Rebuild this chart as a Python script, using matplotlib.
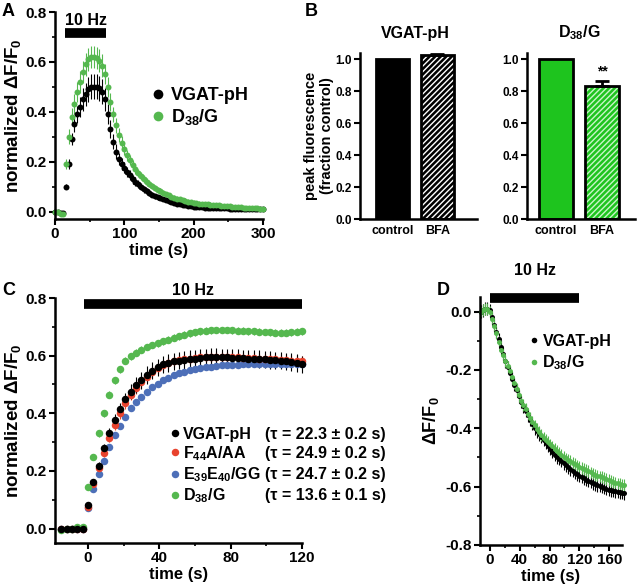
import numpy as np
import matplotlib
matplotlib.use("Agg")
import matplotlib.pyplot as plt
from matplotlib.lines import Line2D
from matplotlib.ticker import MultipleLocator

plt.rcParams["font.family"] = ["Liberation Sans", "DejaVu Sans"]
plt.rcParams["font.weight"] = "bold"
plt.rcParams["axes.labelweight"] = "bold"
plt.rcParams["axes.titleweight"] = "bold"
plt.rcParams["mathtext.default"] = "regular"
plt.rcParams["hatch.linewidth"] = 1.0

GREEN = "#55b84f"
BAR_GREEN = "#1ec41e"
RED = "#e8432e"
BLUE = "#4d6fb8"

# ---- panel A: 10 Hz, 60 s stimulus, full recovery ----
t_a = np.arange(0, 301, 4)
vgat_a = [0.0, 0.0, -0.005, -0.005, 0.10, 0.19, 0.29, 0.35, 0.39, 0.42,
          0.45, 0.47, 0.49, 0.50, 0.50, 0.50, 0.495, 0.48, 0.45, 0.39,
          0.33, 0.28, 0.24, 0.21, 0.19, 0.175, 0.16, 0.145, 0.13, 0.12,
          0.11, 0.10, 0.09, 0.082, 0.075, 0.068, 0.062, 0.058, 0.054, 0.05,
          0.046, 0.042, 0.038, 0.035, 0.032, 0.03, 0.027, 0.025, 0.023, 0.021,
          0.02, 0.019, 0.018, 0.017, 0.016, 0.016, 0.015, 0.015, 0.014, 0.014,
          0.013, 0.013, 0.013, 0.012, 0.012, 0.012, 0.011, 0.011, 0.011, 0.011,
          0.01, 0.01, 0.01, 0.01, 0.01, 0.01]
vgat_a_err = [0.005, 0.005, 0.005, 0.005, 0.01, 0.02, 0.025, 0.03, 0.035, 0.04,
              0.045, 0.045, 0.05, 0.05, 0.05, 0.05, 0.05, 0.05, 0.045, 0.04,
              0.035, 0.03, 0.03, 0.025, 0.025, 0.022, 0.02, 0.02, 0.018, 0.018,
              0.016, 0.015, 0.014, 0.013, 0.012, 0.011, 0.01, 0.01, 0.009, 0.009,
              0.008, 0.008, 0.008, 0.008, 0.008, 0.008, 0.008, 0.008, 0.008, 0.008,
              0.007, 0.007, 0.007, 0.007, 0.007, 0.007, 0.007, 0.007, 0.007, 0.007,
              0.006, 0.006, 0.006, 0.006, 0.006, 0.006, 0.006, 0.006, 0.006, 0.006,
              0.006, 0.006, 0.006, 0.006, 0.006, 0.006]
d38_a = [0.0, 0.0, -0.01, -0.01, 0.19, 0.30, 0.38, 0.43, 0.48, 0.52,
         0.56, 0.59, 0.61, 0.62, 0.62, 0.615, 0.605, 0.585, 0.55, 0.50,
         0.44, 0.39, 0.345, 0.305, 0.275, 0.25, 0.225, 0.205, 0.185, 0.17,
         0.155, 0.142, 0.13, 0.12, 0.11, 0.102, 0.095, 0.088, 0.082, 0.076,
         0.07, 0.065, 0.06, 0.056, 0.052, 0.049, 0.046, 0.043, 0.04, 0.038,
         0.036, 0.034, 0.032, 0.031, 0.03, 0.029, 0.028, 0.027, 0.026, 0.025,
         0.024, 0.023, 0.022, 0.021, 0.02, 0.019, 0.018, 0.017, 0.016, 0.015,
         0.014, 0.014, 0.013, 0.013, 0.012, 0.012]
d38_a_err = [0.008, 0.008, 0.008, 0.008, 0.02, 0.03, 0.035, 0.04, 0.04, 0.045,
             0.045, 0.045, 0.045, 0.045, 0.045, 0.045, 0.045, 0.045, 0.04, 0.04,
             0.035, 0.03, 0.03, 0.028, 0.026, 0.024, 0.022, 0.02, 0.02, 0.018,
             0.017, 0.016, 0.015, 0.014, 0.013, 0.012, 0.012, 0.011, 0.011, 0.01,
             0.01, 0.01, 0.01, 0.01, 0.01, 0.01, 0.01, 0.01, 0.01, 0.01,
             0.009, 0.009, 0.009, 0.009, 0.009, 0.009, 0.009, 0.009, 0.009, 0.009,
             0.008, 0.008, 0.008, 0.008, 0.008, 0.008, 0.008, 0.008, 0.008, 0.008,
             0.008, 0.008, 0.008, 0.008, 0.008, 0.008]
stim_a = (14, 74)

# ---- panel B: peak fluorescence after BFA ----
bar_labels = ["control", "BFA"]
vgat_b = [1.0, 1.03]
vgat_b_err = [0.0, 0.004]
d38_b = [1.0, 0.835]
d38_b_err = [0.0, 0.028]

# ---- panel C: 10 Hz, 120 s stimulus ----
t_c = np.arange(-15, 121, 3)
vgat_c = [0.0, 0.0, -0.002, 0.0, 0.0,
          0.083, 0.16, 0.218, 0.278, 0.33, 0.378, 0.415, 0.448, 0.475, 0.497,
          0.515, 0.533, 0.548, 0.56, 0.57, 0.575, 0.58, 0.583, 0.585, 0.588,
          0.59, 0.592, 0.594, 0.595, 0.595, 0.594, 0.594, 0.593, 0.592, 0.591,
          0.59, 0.589, 0.588, 0.587, 0.585, 0.584, 0.582, 0.58, 0.578, 0.575,
          0.57]
vgat_c_err = [0.006, 0.006, 0.006, 0.006, 0.006,
              0.008, 0.01, 0.012, 0.015, 0.018, 0.02, 0.022, 0.024, 0.026, 0.028,
              0.03, 0.03, 0.03, 0.03, 0.03, 0.03, 0.03, 0.03, 0.03, 0.03,
              0.03, 0.03, 0.03, 0.03, 0.03, 0.03, 0.03, 0.03, 0.03, 0.03,
              0.03, 0.03, 0.03, 0.03, 0.03, 0.03, 0.03, 0.03, 0.03, 0.03,
              0.03]
f44_c = [0.0, 0.0, 0.0, 0.0, 0.0,
         0.075, 0.155, 0.21, 0.262, 0.315, 0.36, 0.40, 0.435, 0.465, 0.488,
         0.508, 0.527, 0.543, 0.556, 0.566, 0.574, 0.58, 0.584, 0.587, 0.59,
         0.592, 0.594, 0.595, 0.596, 0.596, 0.596, 0.595, 0.595, 0.594, 0.593,
         0.592, 0.591, 0.59, 0.589, 0.588, 0.587, 0.586, 0.585, 0.583, 0.582,
         0.58]
f44_c_err = [0.005, 0.005, 0.005, 0.005, 0.005,
             0.008, 0.01, 0.012, 0.014, 0.016, 0.018, 0.02, 0.02, 0.02, 0.02,
             0.02, 0.02, 0.02, 0.02, 0.02, 0.02, 0.02, 0.02, 0.02, 0.02,
             0.02, 0.02, 0.02, 0.02, 0.02, 0.02, 0.02, 0.02, 0.02, 0.02,
             0.02, 0.02, 0.02, 0.02, 0.02, 0.02, 0.02, 0.02, 0.02, 0.02,
             0.02]
e39_c = [0.0, 0.0, 0.0, 0.0, 0.0,
         0.07, 0.139, 0.188, 0.234, 0.282, 0.325, 0.356, 0.388, 0.417, 0.44,
         0.458, 0.475, 0.49, 0.503, 0.514, 0.524, 0.532, 0.539, 0.545, 0.55,
         0.554, 0.557, 0.56, 0.562, 0.564, 0.566, 0.567, 0.568, 0.569, 0.57,
         0.57, 0.571, 0.571, 0.572, 0.572, 0.572, 0.572, 0.572, 0.571, 0.571,
         0.57]
e39_c_err = [0.004, 0.004, 0.004, 0.004, 0.004,
             0.006, 0.008, 0.01, 0.01, 0.01, 0.01, 0.01, 0.01, 0.01, 0.01,
             0.01, 0.01, 0.01, 0.01, 0.01, 0.01, 0.01, 0.01, 0.01, 0.01,
             0.01, 0.01, 0.01, 0.01, 0.01, 0.01, 0.01, 0.01, 0.01, 0.01,
             0.01, 0.01, 0.01, 0.01, 0.01, 0.01, 0.01, 0.01, 0.01, 0.01,
             0.01]
d38_c = [-0.005, 0.0, 0.0, 0.005, 0.005,
         0.145, 0.25, 0.33, 0.40, 0.465, 0.515, 0.553, 0.582, 0.598, 0.61,
         0.62, 0.63, 0.637, 0.643, 0.65, 0.656, 0.662, 0.667, 0.672, 0.677,
         0.681, 0.684, 0.686, 0.688, 0.689, 0.689, 0.689, 0.688, 0.687, 0.686,
         0.685, 0.684, 0.683, 0.682, 0.681, 0.68, 0.68, 0.68, 0.681, 0.683,
         0.685]
d38_c_err = [0.005, 0.005, 0.005, 0.005, 0.005,
             0.008, 0.01, 0.012, 0.012, 0.012, 0.012, 0.012, 0.012, 0.012, 0.012,
             0.012, 0.012, 0.012, 0.012, 0.012, 0.012, 0.012, 0.012, 0.012, 0.012,
             0.012, 0.012, 0.012, 0.012, 0.012, 0.012, 0.012, 0.012, 0.012, 0.012,
             0.012, 0.012, 0.012, 0.012, 0.012, 0.012, 0.012, 0.012, 0.012, 0.012,
             0.012]
tau_c = ["(τ = 22.3 ± 0.2 s)", "(τ = 24.9 ± 0.2 s)",
         "(τ = 24.7 ± 0.2 s)", "(τ = 13.6 ± 0.1 s)"]
stim_c = (-2, 120)

# ---- panel D: surface fluorescence during 10 Hz ----
t_d = np.arange(-12, 181, 3)
vgat_d = [0.0, 0.005, 0.01, 0.01, 0.005, -0.02, -0.045, -0.07, -0.095, -0.12,
          -0.145, -0.17, -0.19, -0.21, -0.23, -0.25, -0.27, -0.29, -0.31, -0.325,
          -0.34, -0.355, -0.37, -0.385, -0.4, -0.41, -0.42, -0.43, -0.44, -0.45,
          -0.46, -0.47, -0.48, -0.49, -0.5, -0.505, -0.512, -0.52, -0.527, -0.533,
          -0.54, -0.546, -0.552, -0.557, -0.562, -0.567, -0.572, -0.576, -0.58, -0.584,
          -0.588, -0.592, -0.595, -0.598, -0.601, -0.604, -0.607, -0.61, -0.612, -0.614,
          -0.616, -0.618, -0.62, -0.622, -0.623]
d38_d = [0.0, 0.005, 0.01, 0.01, 0.0, -0.025, -0.05, -0.075, -0.105, -0.13,
         -0.15, -0.17, -0.188, -0.205, -0.225, -0.245, -0.265, -0.285, -0.305, -0.32,
         -0.335, -0.35, -0.365, -0.378, -0.39, -0.402, -0.413, -0.423, -0.432, -0.44,
         -0.448, -0.455, -0.462, -0.47, -0.477, -0.484, -0.491, -0.497, -0.503, -0.508,
         -0.513, -0.518, -0.523, -0.527, -0.531, -0.535, -0.539, -0.543, -0.547, -0.551,
         -0.555, -0.559, -0.562, -0.565, -0.568, -0.571, -0.574, -0.577, -0.58, -0.583,
         -0.586, -0.589, -0.591, -0.593, -0.595]
vgat_d_err = 0.022
d38_d_err = 0.02
stim_d = (0, 120)


def style(ax):
    for s in ("top", "right"):
        ax.spines[s].set_visible(False)
    for s in ("left", "bottom"):
        ax.spines[s].set_linewidth(1.8)
    ax.tick_params(which="major", length=4, width=1.5, labelsize=11, pad=2)
    ax.tick_params(which="minor", length=2.5, width=1.2)


def trace(ax, t, v, e, color, ms):
    ax.errorbar(t, v, yerr=e, fmt="o", ms=ms, color=color, mec="none",
                ecolor=color, elinewidth=0.8, capsize=0, clip_on=False)


def stim_bar(ax, span, y, ty):
    ax.plot(span, [y, y], color="k", lw=7, solid_capstyle="butt", clip_on=False)
    ax.text(sum(span) / 2, ty, "10 Hz", ha="center", va="center", fontsize=11.5)


fig = plt.figure(figsize=(6.4, 5.84), dpi=100)

# A
ax = fig.add_axes([55 / 640, 1 - 219 / 584, 208 / 640, 207 / 584])
trace(ax, t_a, vgat_a, vgat_a_err, "k", 4.3)
trace(ax, t_a, d38_a, d38_a_err, GREEN, 4.3)
style(ax)
ax.set_xlim(0, 300)
ax.set_ylim(-0.03, 0.8)
ax.xaxis.set_major_locator(MultipleLocator(100))
ax.xaxis.set_minor_locator(MultipleLocator(50))
ax.yaxis.set_major_locator(MultipleLocator(0.2))
ax.yaxis.set_minor_locator(MultipleLocator(0.1))
ax.yaxis.set_major_formatter(lambda v, p: f"{v:.1f}")
ax.set_xlabel("time (s)", fontsize=12, labelpad=1)
ax.set_ylabel("normalized ΔF/F$_0$", fontsize=13.5, labelpad=2)
stim_bar(ax, stim_a, 0.715, 0.765)
h = [Line2D([], [], ls="", marker="o", ms=7, color=c, mec="none") for c in ("k", GREEN)]
ax.legend(h, ["VGAT-pH", "D$_{38}$/G"], loc="center left", bbox_to_anchor=(0.47, 0.54),
          frameon=False, fontsize=13, handlelength=0.6, handletextpad=0.4,
          labelspacing=0.15, borderpad=0, borderaxespad=0)

# B
for left, width, vals, errs, face, hcol, xl, title in (
        (360, 117, vgat_b, vgat_b_err, "k", "white", (-0.74, 1.89), "VGAT-pH"),
        (527, 108, d38_b, d38_b_err, BAR_GREEN, "#c8f5c8", (-0.63, 1.72), "D$_{38}$/G")):
    ax = fig.add_axes([left / 640, 1 - 219 / 584, width / 640, 166 / 584])
    x = np.arange(len(vals))
    w = 0.74
    ax.bar(x, vals, w, color=face, edgecolor="none")
    ax.bar(x[1], vals[1], w, color="none", edgecolor=hcol, hatch="//////", linewidth=0)
    ax.errorbar(x[1], vals[1], yerr=[[0], [errs[1]]], fmt="none", ecolor="k",
                elinewidth=2, capsize=5, capthick=2)
    ax.bar(x, vals, w, color="none", edgecolor="k", linewidth=2)
    style(ax)
    ax.tick_params(labelsize=8.5)
    ax.tick_params(axis="x", length=0, pad=4, labelsize=9)
    ax.set_xticks(x, bar_labels)
    ax.set_xlim(*xl)
    ax.set_ylim(0, 1.04)
    ax.yaxis.set_major_locator(MultipleLocator(0.2))
    ax.yaxis.set_major_formatter(lambda v, p: f"{v:.1f}")
    ax.set_title(title, fontsize=11.5, pad=11, x=(0.5 - xl[0]) / (xl[1] - xl[0]))
    if title == "VGAT-pH":
        ax.set_ylabel("peak fluorescence\n(fraction control)", fontsize=10.5, labelpad=1,
                      linespacing=1.15)
    else:
        ax.text(x[1], vals[1] + errs[1] + 0.02, "**", ha="center", va="bottom", fontsize=10)

# C
ax = fig.add_axes([55 / 640, 1 - 543 / 584, 247 / 640, 245 / 584])
series_c = [(e39_c, e39_c_err, BLUE), (f44_c, f44_c_err, RED),
            (d38_c, d38_c_err, GREEN), (vgat_c, vgat_c_err, "k")]
for v, e, c in series_c:
    trace(ax, t_c, v, e, c, 5.4)
style(ax)
ax.set_xlim(-18.5, 120)
ax.set_ylim(-0.05, 0.8)
ax.xaxis.set_major_locator(MultipleLocator(40))
ax.xaxis.set_minor_locator(MultipleLocator(20))
ax.yaxis.set_major_locator(MultipleLocator(0.2))
ax.yaxis.set_minor_locator(MultipleLocator(0.1))
ax.yaxis.set_major_formatter(lambda v, p: f"{v:.1f}")
ax.set_xlabel("time (s)", fontsize=12, labelpad=1)
ax.set_ylabel("normalized ΔF/F$_0$", fontsize=13.5, labelpad=2)
stim_bar(ax, stim_c, 0.78, 0.825)
h = [Line2D([], [], ls="", marker="o", ms=5.4, color=c, mec="none") for c in ("k", RED, BLUE, GREEN)]
leg = ax.legend(h, ["VGAT-pH", "F$_{44}$A/AA", "E$_{39}$E$_{40}$/GG", "D$_{38}$/G"],
                loc="upper left", bbox_to_anchor=(0.47, 0.475), frameon=False,
                fontsize=11.5, handlelength=0.5, handletextpad=0.25,
                labelspacing=0.15, borderpad=0, borderaxespad=0)
fig.canvas.draw()
inv = ax.transAxes.inverted()
for txt, s in zip(leg.get_texts(), tau_c):
    bb = txt.get_window_extent()
    yc = inv.transform((0, (bb.y0 + bb.y1) / 2))[1]
    ax.text(0.85, yc, s, transform=ax.transAxes, ha="left", va="center",
            fontsize=11.5, clip_on=False)

# D
ax = fig.add_axes([480 / 640, 1 - 545 / 584, 142 / 640, 248 / 584])
trace(ax, t_d, vgat_d, vgat_d_err, "k", 3.6)
trace(ax, t_d, d38_d, d38_d_err, GREEN, 3.6)
style(ax)
ax.set_xlim(-13, 177)
ax.set_ylim(-0.8, 0.05)
ax.xaxis.set_major_locator(MultipleLocator(40))
ax.xaxis.set_minor_locator(MultipleLocator(20))
ax.yaxis.set_major_locator(MultipleLocator(0.2))
ax.yaxis.set_minor_locator(MultipleLocator(0.1))
ax.yaxis.set_major_formatter(lambda v, p: "0.0" if abs(v) < 1e-9 else f"{v:.1f}")
ax.set_xlabel("time (s)", fontsize=12, labelpad=1)
ax.set_ylabel("ΔF/F$_0$", fontsize=13, labelpad=3)
stim_bar(ax, stim_d, 0.045, 0.14)
h = [Line2D([], [], ls="", marker="o", ms=4, color=c, mec="none") for c in ("k", GREEN)]
ax.legend(h, ["VGAT-pH", "D$_{38}$/G"], loc="center left", bbox_to_anchor=(0.35, 0.775),
          frameon=False, fontsize=11.5, handlelength=0.5, handletextpad=0.3,
          labelspacing=0.3, borderpad=0, borderaxespad=0)

for lab, x, y in (("A", 2, 3), ("B", 305, 3), ("C", 2, 282), ("D", 437, 282)):
    fig.text(x / 640, 1 - y / 584, lab, fontsize=13, fontweight="bold", va="top", ha="left")

fig.savefig("out.png", dpi=100)
